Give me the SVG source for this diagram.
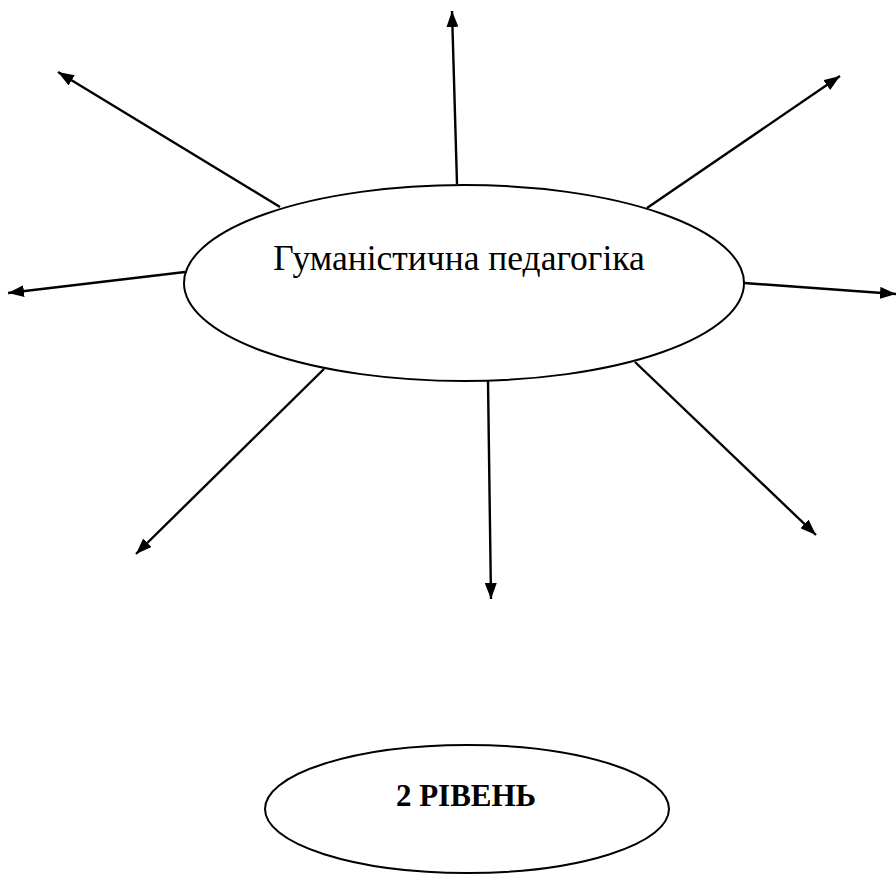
<svg xmlns="http://www.w3.org/2000/svg" width="896" height="875" viewBox="0 0 896 875">
<style>
.bg{fill:#fff}
.ell{fill:#fff;stroke:#000;stroke-width:2}
.conn{stroke:#000;stroke-width:2.4;fill:none;marker-end:url(#ah)}
.t1{font-family:"Liberation Serif","Times New Roman",serif;font-size:35.5px;fill:#000;text-anchor:middle}
.t2{font-family:"Liberation Serif","Times New Roman",serif;font-size:31px;font-weight:bold;fill:#000;text-anchor:middle}
</style>
<defs>
<marker id="ah" viewBox="0 0 16 12" refX="16" refY="6" markerWidth="16" markerHeight="12" orient="auto" markerUnits="userSpaceOnUse">
<path d="M0,0 L16,6 L0,12 z" fill="#000"/>
</marker>
</defs>
<rect class="bg" x="0" y="0" width="896" height="875"/>
<g id="connectors">
<line class="conn" x1="457" y1="184" x2="452" y2="11"/>
<line class="conn" x1="280" y1="207" x2="58" y2="72"/>
<line class="conn" x1="647" y1="208" x2="840" y2="76"/>
<line class="conn" x1="185" y1="272" x2="8" y2="293"/>
<line class="conn" x1="744" y1="283" x2="896" y2="294"/>
<line class="conn" x1="324" y1="369" x2="136" y2="554"/>
<line class="conn" x1="488" y1="381" x2="491" y2="599"/>
<line class="conn" x1="635" y1="362" x2="816" y2="535"/>
</g>
<g id="node-main">
<ellipse class="ell" cx="464" cy="283" rx="280" ry="98"/>
<text class="t1" x="459" y="270">Гуманістична педагогіка</text>
</g>
<g id="node-level2">
<ellipse class="ell" cx="467" cy="809" rx="202" ry="64"/>
<text class="t2" x="466" y="806">2 РІВЕНЬ</text>
</g>
</svg>
